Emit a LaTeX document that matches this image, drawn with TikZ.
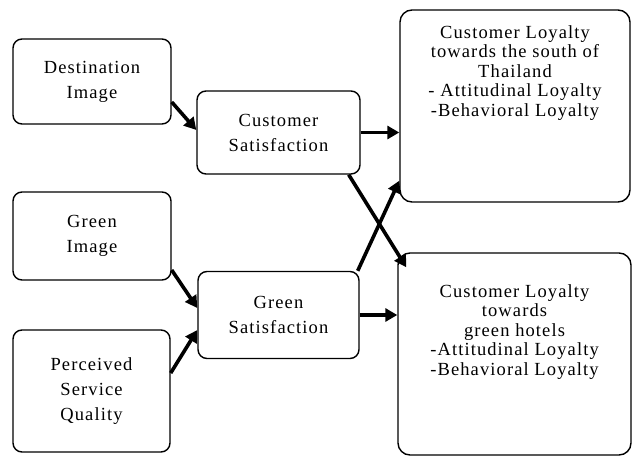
\documentclass[tikz,border=0pt]{standalone}
\usepackage{fontspec}
\setmainfont[LetterSpace=6]{Liberation Serif}
\usepackage{tikz}
\usetikzlibrary{arrows.meta,positioning}

\begin{document}
\begin{tikzpicture}[x=1pt,y=-1pt,
        box/.style={draw, line width=1.4pt, rounded corners=9pt, inner sep=0pt, align=center,
            font=\fontsize{18.5}{25}\selectfont},
        bigbox/.style={draw, line width=1.4pt, rounded corners=12pt, inner sep=0pt,
            font=\fontsize{18.5}{19.5}\selectfont},
        link/.style={line width=3.6pt, -{Triangle[length=12pt,width=13pt]}}]
        \useasboundingbox (0,0) rectangle (636,458);

        % left column
        \node[box, minimum width=158pt, minimum height=85pt] (dest) at (92,81.5) {Destination\\Image};
        \node[box, minimum width=158pt, minimum height=88pt] (greenimg) at (92,236) {Green\\Image};
        \node[box, minimum width=157pt, minimum height=122pt] (psq) at (91.5,391) {Perceived\\Service\\Quality};

        % middle column
        \node[box, minimum width=163pt, minimum height=83pt] (custsat) at (278.5,132.5) {Customer\\Satisfaction};
        \node[box, minimum width=161pt, minimum height=87pt] (greensat) at (278.5,315) {Green\\Satisfaction};

        % right column
        \node[bigbox, minimum width=230pt, minimum height=192pt] (southloy) at (515,106)
            {\parbox[c][192pt][t]{228pt}{\centering\rule{0pt}{28pt}Customer Loyalty\\towards the south of\\Thailand\\- Attitudinal Loyalty\\-Behavioral Loyalty\par}};
        \node[bigbox, minimum width=233pt, minimum height=202pt] (greenloy) at (514.5,354)
            {\parbox[c][202pt][t]{231pt}{\centering\rule{0pt}{44pt}Customer Loyalty\\towards\\green hotels\\-Attitudinal Loyalty\\-Behavioral Loyalty\par}};

        % arrows
        \draw[link] ([yshift=-20.5pt]dest.east) -- ([yshift=2.5pt]custsat.west);
        \draw[link] ([yshift=-34pt]greenimg.east) -- ([yshift=7pt]greensat.west);
        \draw[link] ([yshift=18pt]psq.east) -- ([yshift=-15pt]greensat.west);
        \draw[link] (custsat.east) -- (custsat.east -| southloy.west);
        \draw[link] (greensat.east) -- (greensat.east -| greenloy.west);
        \draw[link] ([xshift=-12pt]custsat.south east) -- ([xshift=9pt,yshift=-15pt]greenloy.north west);
        \draw[link] ([xshift=-2pt]greensat.north east) -- ([yshift=22pt]southloy.south west);
    \end{tikzpicture}
\end{document}
